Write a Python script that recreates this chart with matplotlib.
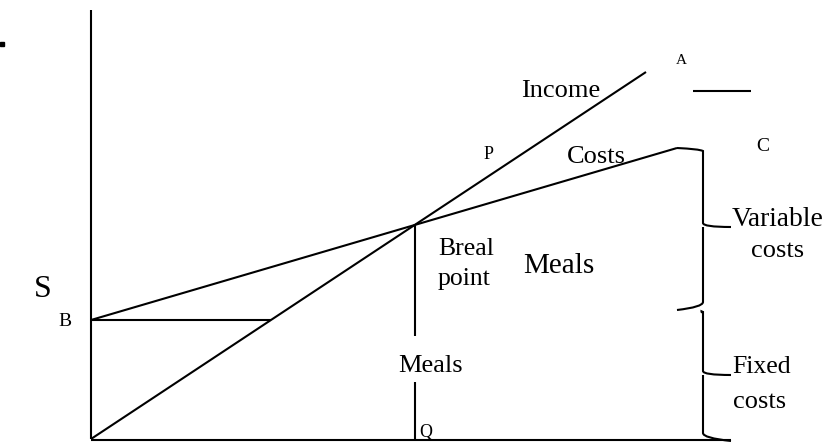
import matplotlib
matplotlib.use('Agg')
import matplotlib.pyplot as plt
from matplotlib.path import Path
from matplotlib.patches import PathPatch

plt.rcParams['font.family'] = ['Liberation Serif', 'DejaVu Serif']

# diagram geometry, in picture units (x right, y down)
origin = (91, 439)
b_level = 320
income_end = (646, 72)
costs_end = (677, 148)
break_x = 415
axis_top = 10
axis_right = 731
dash_line = ([693, 751], [91, 91])

# upper (variable) and lower (fixed) braces: top, tip, bottom
var_brace = (152, 228, 307)
fix_brace = (313, 376, 438)
brace_x = 703
brace_tip_x = 731

labels = [
    # text, x, y, size, ha
    ('Income', 561, 97, 19, 'center'),
    ('P', 489, 159, 13, 'center'),
    ('Costs', 596, 163, 19, 'center'),
    ('Breal', 438, 255, 18.5, 'left'),
    ('point', 438, 285, 18.5, 'left'),
    ('Meals', 523, 273, 21, 'left'),
    ('S', 43, 297, 23, 'center'),
    ('B', 65, 326, 14, 'center'),
    ('Meals', 398, 372, 19, 'left'),
    ('Q', 426, 437, 13, 'center'),
    ('C', 763, 151, 14, 'center'),
    ('A', 681, 64, 11, 'center'),
    ('O', 67, 461, 15, 'center'),
    ('Variable', 732, 226, 19.8, 'left'),
    ('costs', 778, 257, 19, 'center'),
    ('Fixed', 732, 373, 18.5, 'left'),
    ('costs', 760, 408, 19, 'center'),
]

fig = plt.figure(figsize=(8.25, 4.46), dpi=100)
ax = fig.add_axes([0, 0, 1, 1])
ax.set_xlim(0, 825)
ax.set_ylim(446, 0)
ax.axis('off')

lw = 1.5
kw = dict(color='black', lw=lw, solid_capstyle='butt')

# axes
ax.plot([origin[0], origin[0]], [axis_top, origin[1]], **kw)
ax.plot([origin[0], axis_right], [origin[1] + 1, origin[1] + 1], **kw)

# income line
ax.plot([origin[0], income_end[0]], [origin[1], income_end[1]], **kw)

# costs line
ax.plot([origin[0], costs_end[0]], [b_level, costs_end[1]], **kw)

# fixed cost level up to income line
slope = (origin[1] - income_end[1]) / (income_end[0] - origin[0])
x_meet = origin[0] + (origin[1] - b_level) / slope
ax.plot([origin[0], x_meet], [b_level, b_level], **kw)

# break-even vertical
y_break = origin[1] - (break_x - origin[0]) * slope
ax.plot([break_x, break_x], [y_break, 336], **kw)
ax.plot([break_x, break_x], [382, origin[1]], **kw)

ax.plot(*dash_line, **kw)
ax.plot([2], [44], marker='s', ms=2.2, color='black')


def brace(top, tip, bottom, x0, top_from, bottom_to):
    verts = [top_from, (x0 - 4, top - 3), (x0, top - 1), (x0, top + 4),
             (x0, tip - 5), (x0, tip - 1), (brace_tip_x, tip - 1),
             (x0, tip - 1), (x0, tip + 3), (x0, bottom - 5),
             (x0, bottom), bottom_to]
    codes = [Path.MOVETO, Path.CURVE3, Path.CURVE3, Path.LINETO,
             Path.LINETO, Path.CURVE3, Path.CURVE3,
             Path.MOVETO, Path.CURVE3, Path.LINETO,
             Path.CURVE3, Path.CURVE3]
    ax.add_patch(PathPatch(Path(verts, codes), fill=False, lw=lw, ec='black'))


brace(var_brace[0], var_brace[1], var_brace[2], brace_x,
      costs_end, (677, var_brace[2] + 3))
brace(fix_brace[0], fix_brace[1], fix_brace[2], brace_x,
      (brace_x, fix_brace[0]), (brace_tip_x, fix_brace[2] + 3))

for t, x, y, s, ha in labels:
    ax.text(x, y, t, fontsize=s, ha=ha, va='baseline')

fig.savefig('out.png', dpi=100)
